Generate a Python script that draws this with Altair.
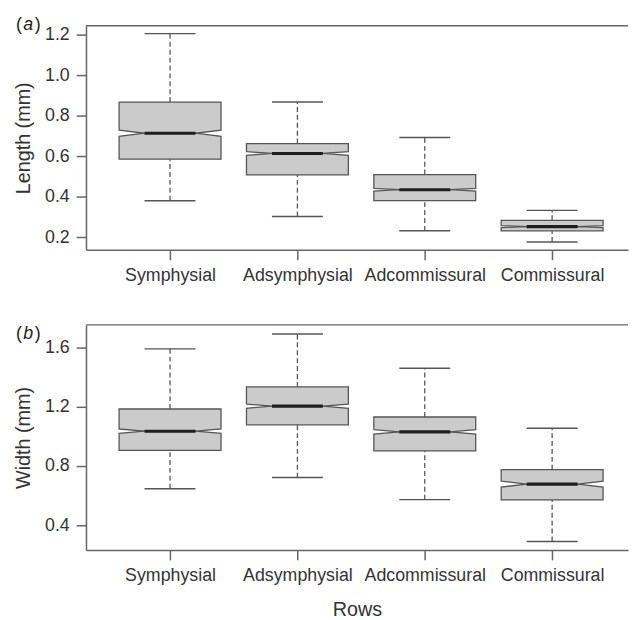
import json
import altair as alt
import pandas as pd

categories = ["Symphysial", "Adsymphysial", "Adcommissural", "Commissural"]

# Panel (a): Length (mm)
len_low = [0.380, 0.302, 0.231, 0.176]
len_q1 = [0.585, 0.507, 0.380, 0.231]
len_med = [0.713, 0.613, 0.434, 0.252]
len_q3 = [0.867, 0.662, 0.509, 0.283]
len_high = [1.205, 0.867, 0.692, 0.332]
len_notch = [0.015, 0.009, 0.007, 0.005]

# Panel (b): Width (mm)
wid_low = [0.647, 0.722, 0.573, 0.291]
wid_q1 = [0.905, 1.078, 0.902, 0.571]
wid_med = [1.035, 1.204, 1.031, 0.678]
wid_q3 = [1.185, 1.335, 1.131, 0.775]
wid_high = [1.591, 1.691, 1.460, 1.055]
wid_notch = [0.015, 0.014, 0.015, 0.020]

FONT = "Liberation Sans"
W = 549
BOXW = 0.4
CAPW = 0.2
X_DOMAIN = [0.34, 0.34 + W / 129.0]
label_expr = json.dumps(categories) + "[round(datum.value) - 1]"


def panel(low, q1, med, q3, high, notch, ydomain, height, ytitle, yvalues,
          ylabel_expr, tag, tag_y, xtitle):
    stats = pd.DataFrame({
        "pos": [i + 1 for i in range(len(categories))],
        "cat": categories, "low": low, "q1": q1, "med": med,
        "q3": q3, "high": high, "notch": notch,
    })
    stats["cl"] = stats["pos"] - CAPW
    stats["cr"] = stats["pos"] + CAPW

    rows = []
    for _, r in stats.iterrows():
        p = r["pos"]
        xs = [p - BOXW, p - CAPW, p + CAPW, p + BOXW]
        lo_top = [r["med"] - r["notch"], r["med"], r["med"], r["med"] - r["notch"]]
        hi_bot = [r["med"] + r["notch"], r["med"], r["med"], r["med"] + r["notch"]]
        for k in range(4):
            rows.append({"key": r["cat"] + "_lo", "x": xs[k], "y": r["q1"], "y2": lo_top[k]})
            rows.append({"key": r["cat"] + "_hi", "x": xs[k], "y": hi_bot[k], "y2": r["q3"]})
    halves = pd.DataFrame(rows)

    xscale = alt.Scale(domain=X_DOMAIN, nice=False, zero=False)
    yscale = alt.Scale(domain=ydomain, nice=False, zero=False)

    xaxis = alt.Axis(values=[1, 2, 3, 4], labelExpr=label_expr, grid=False,
                     tickSize=10, tickWidth=1.5, tickColor="#666",
                     domainColor="#666", domainWidth=1.5,
                     labelFont=FONT, labelFontSize=18, labelColor="#333",
                     labelPadding=7, titleFont=FONT, titleFontSize=20,
                     titleFontWeight="normal", titleColor="#333", titlePadding=15)
    yaxis = alt.Axis(values=yvalues, labelExpr=ylabel_expr, grid=False,
                     tickSize=10, tickWidth=1.5, tickColor="#666",
                     domainColor="#666", domainWidth=1.5,
                     labelFont=FONT, labelFontSize=18, labelColor="#333",
                     labelPadding=7, titleFont=FONT, titleFontSize=20,
                     titleFontWeight="normal", titleColor="#333", titlePadding=11)

    base = alt.Chart(stats)
    whisk_hi = base.mark_rule(color="#555", strokeWidth=1.3, strokeDash=[5, 3]).encode(
        x=alt.X("pos:Q", scale=xscale, axis=xaxis, title=xtitle),
        y=alt.Y("q3:Q", scale=yscale, axis=yaxis, title=ytitle),
        y2="high:Q",
    )
    whisk_lo = base.mark_rule(color="#555", strokeWidth=1.3, strokeDash=[5, 3]).encode(
        x="pos:Q", y="low:Q", y2="q1:Q")
    cap_hi = base.mark_rule(color="#555", strokeWidth=1.5).encode(
        x="cl:Q", x2="cr:Q", y="high:Q")
    cap_lo = base.mark_rule(color="#555", strokeWidth=1.5).encode(
        x="cl:Q", x2="cr:Q", y="low:Q")
    boxes = alt.Chart(halves).mark_area(
        fill="#cbcbcb", stroke="#555", strokeWidth=1.3, opacity=1
    ).encode(x="x:Q", y="y:Q", y2="y2:Q", detail="key:N")
    medians = base.mark_rule(color="#1e1e1e", strokeWidth=3.2).encode(
        x="cl:Q", x2="cr:Q", y="med:Q")
    top = alt.Chart(pd.DataFrame({"t": [0]})).mark_rule(
        color="#666", strokeWidth=1.5).encode(
        x=alt.value(0), x2=alt.value(W), y=alt.value(0))

    tagdf = pd.DataFrame({"t": [tag]})
    lp = alt.Chart(tagdf).mark_text(text="(", font=FONT, fontSize=18, color="#222",
                                    align="right", baseline="middle").encode(
        x=alt.value(-65), y=alt.value(tag_y))
    lt = alt.Chart(tagdf).mark_text(font=FONT, fontSize=18, fontStyle="italic",
                                    color="#222", align="center",
                                    baseline="middle").encode(
        x=alt.value(-58.5), y=alt.value(tag_y), text="t:N")
    rp = alt.Chart(tagdf).mark_text(text=")", font=FONT, fontSize=18, color="#222",
                                    align="left", baseline="middle").encode(
        x=alt.value(-52), y=alt.value(tag_y))

    return alt.layer(whisk_hi, whisk_lo, cap_hi, cap_lo, boxes, medians, top,
                     lp, lt, rp).properties(width=W, height=height)


top_panel = panel(len_low, len_q1, len_med, len_q3, len_high, len_notch,
                  [0.137, 1.244], 227, "Length (mm)",
                  [0.2, 0.4, 0.6, 0.8, 1.0, 1.2], "format(datum.value, '.1f')",
                  "a", -1, None)
bot_panel = panel(wid_low, wid_q1, wid_med, wid_q3, wid_high, wid_notch,
                  [0.233, 1.753], 228, "Width (mm)",
                  [0.4, 0.6, 0.8, 1.0, 1.2, 1.4, 1.6],
                  "round(datum.value * 10) % 4 == 0 ? format(datum.value, '.1f') : ''",
                  "b", 9, "Rows")

chart = alt.vconcat(top_panel, bot_panel, spacing=40).properties(
    padding={"left": 5, "top": 4, "right": 0, "bottom": 0},
    background="white",
).configure_view(strokeWidth=0)

chart.save("out.html", embed_options={"renderer": "svg", "actions": False})
